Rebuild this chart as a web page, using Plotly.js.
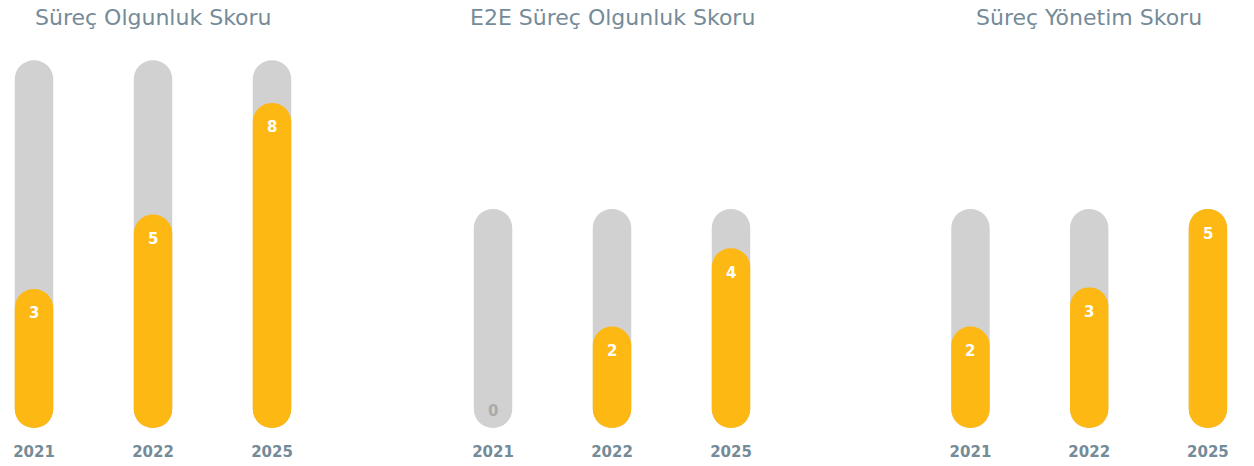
<!DOCTYPE html>
<html>
<head>
<meta charset="utf-8">
<script src="https://cdn.plot.ly/plotly-3.0.1.min.js"></script>
<style>html,body{margin:0;padding:0;background:#fff;}#chart{width:1254px;height:466px;}</style>
</head>
<body>
<div id="chart"></div>
<script>
// ---- data ----
const years = ['2021', '2022', '2025'];
const titles = ['Süreç Olgunluk Skoru', 'E2E Süreç Olgunluk Skoru', 'Süreç Yönetim Skoru'];
const olgunlukScores = [3, 5, 8];
const e2eScores = [0, 2, 4];
const yonetimScores = [2, 3, 5];
const trackMax = [9.15, 5, 5];

// ---- style / geometry ----
const panels = [
  { values: olgunlukScores, bottom: -0.737, yrange: [-0.737, 10.768], xdomain: [0, 331.5 / 1254], xrange: [-0.2857, 2.5] },
  { values: e2eScores, bottom: -0.587, yrange: [-0.587, 10.332], xdomain: [433.5 / 1254, 790.5 / 1254], xrange: [-0.5, 2.5] },
  { values: yonetimScores, bottom: -0.587, yrange: [-0.587, 10.332], xdomain: [911.1 / 1254, 1], xrange: [-0.5, 2.388] }
];
const GRAY = '#d1d1d1';
const YELLOW = '#fdb813';
const TEXTCOL = '#758b98';
const BARW = 0.3235;

function capsule(i, xs, tops, bottom, color) {
  const sfx = i === 0 ? '' : String(i + 1);
  return {
    type: 'bar', x: xs, xaxis: 'x' + sfx, yaxis: 'y' + sfx, width: BARW,
    base: xs.map(() => bottom),
    y: tops.map(t => t - bottom),
    marker: { color: color, cornerradius: '50%', line: { width: 0 } },
    hoverinfo: 'skip', showlegend: false
  };
}

const traces = [];
const annotations = [];
const layout = {
  width: 1254, height: 466,
  margin: { l: 0, r: 0, t: 0, b: 38, pad: 0 },
  paper_bgcolor: '#ffffff', plot_bgcolor: '#ffffff',
  barmode: 'overlay',
  showlegend: false
};

panels.forEach((p, i) => {
  const sfx = i === 0 ? '' : String(i + 1);
  traces.push(capsule(i, years, years.map(() => trackMax[i]), p.bottom, GRAY));
  const xs = years.filter((y, k) => p.values[k] > 0);
  const vs = p.values.filter(v => v > 0);
  traces.push(capsule(i, xs, vs, p.bottom, YELLOW));

  layout['xaxis' + sfx] = {
    domain: p.xdomain, anchor: 'y' + sfx, type: 'category',
    categoryorder: 'array', categoryarray: years, range: p.xrange,
    showgrid: false, zeroline: false, showline: false, ticks: '',
    ticklabelstandoff: 13,
    tickfont: { family: 'DejaVu Sans', size: 15, weight: 'bold', color: TEXTCOL }
  };
  layout['yaxis' + sfx] = {
    domain: [0, 1], anchor: 'x' + sfx, range: p.yrange,
    showgrid: false, zeroline: false, showline: false, showticklabels: false, ticks: ''
  };

  annotations.push({
    xref: 'x' + sfx, yref: 'paper', x: 1, y: 1 - 17 / 428,
    xanchor: 'center', yanchor: 'middle', showarrow: false,
    text: titles[i],
    font: { family: 'DejaVu Sans', size: 22, color: TEXTCOL }
  });

  p.values.forEach((v, k) => {
    annotations.push({
      xref: 'x' + sfx, yref: 'y' + sfx, x: k, y: v,
      xanchor: 'center', yanchor: 'middle', showarrow: false,
      yshift: v > 0 ? -24.5 : -6,
      text: String(v),
      font: { family: 'DejaVu Sans', size: 15, weight: 'bold', color: v > 0 ? '#ffffff' : '#aaaaaa' }
    });
  });
});
layout.annotations = annotations;

Plotly.newPlot('chart', traces, layout, { staticPlot: true, displayModeBar: false });
</script>
</body>
</html>
